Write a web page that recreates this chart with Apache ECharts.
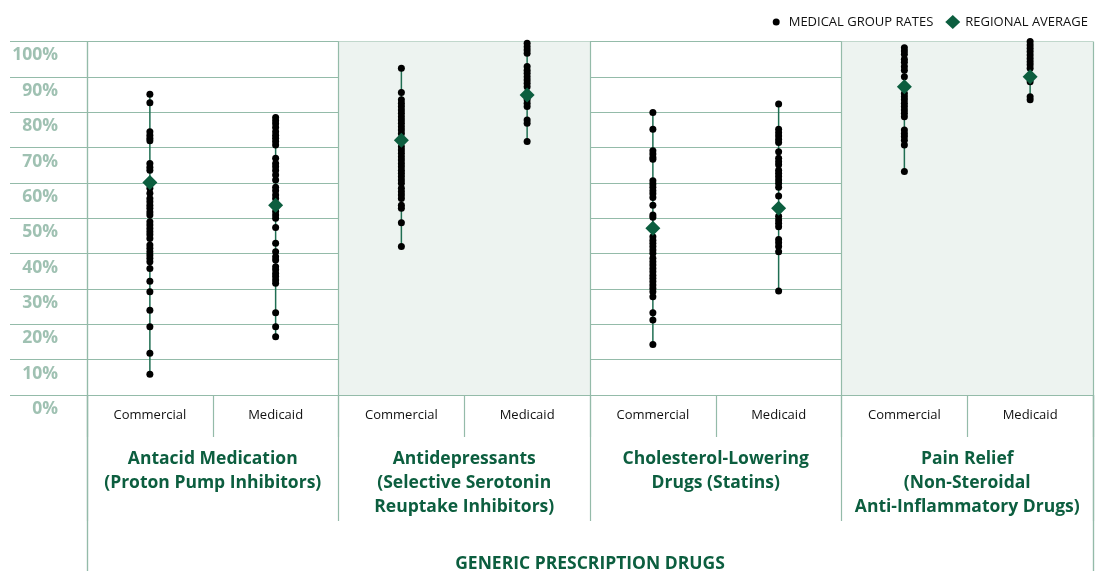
<!DOCTYPE html>
<html>
<head>
<meta charset="utf-8">
<script src="https://cdn.jsdelivr.net/npm/echarts@6/dist/echarts.min.js"></script>
<style>
  html, body { margin: 0; padding: 0; background: #fff; }
  #chart { width: 1095px; height: 571px; }
</style>
</head>
<body>
<div id="chart"></div>
<script>
// categories
var planTypes = ['Commercial', 'Medicaid', 'Commercial', 'Medicaid', 'Commercial', 'Medicaid', 'Commercial', 'Medicaid'];
var drugGroups = [
  'Antacid Medication\n(Proton Pump Inhibitors)',
  'Antidepressants\n(Selective Serotonin\nReuptake Inhibitors)',
  'Cholesterol-Lowering\nDrugs (Statins)',
  'Pain Relief\n(Non-Steroidal\nAnti-Inflammatory Drugs)'
];
var axisTitle = ['GENERIC PRESCRIPTION DRUGS'];

// medical group rates (%), one list per column
var antacidCommercial = [85.1, 82.7, 74.5, 73.5, 72.6, 71.9, 65.5, 64.4, 63.6, 58.5, 57.1, 55.6, 54.7, 53.7, 52.8, 51.8, 50.9, 49.0, 48.1, 47.1, 46.2, 45.3, 44.3, 42.4, 41.5, 40.5, 39.6, 38.7, 37.7, 35.8, 32.2, 29.2, 24.0, 19.3, 11.8, 5.9];
var antacidMedicaid = [78.5, 77.6, 76.7, 75.7, 74.5, 73.5, 72.6, 71.7, 70.7, 67.0, 65.5, 64.6, 63.5, 62.2, 60.8, 58.8, 57.8, 56.6, 55.6, 51.9, 50.9, 50.0, 47.4, 42.9, 40.5, 39.1, 38.2, 36.3, 35.4, 34.4, 33.5, 32.5, 31.6, 23.3, 19.3, 16.5];
var antidepCommercial = [92.4, 85.6, 83.5, 82.5, 81.6, 80.6, 79.7, 78.7, 77.8, 76.9, 75.9, 75.0, 74.0, 70.2, 69.3, 68.4, 67.4, 66.5, 65.5, 64.6, 63.6, 62.7, 61.8, 60.8, 59.9, 58.5, 57.5, 56.6, 55.6, 53.7, 52.8, 48.7, 42.0];
var antidepMedicaid = [99.5, 98.5, 97.6, 96.7, 92.9, 91.9, 91.0, 90.0, 89.1, 88.2, 87.2, 83.5, 82.5, 81.6, 77.8, 76.9, 71.7];
var statinCommercial = [79.9, 75.2, 69.1, 68.2, 67.2, 66.7, 60.6, 59.7, 58.8, 57.8, 56.9, 55.9, 53.7, 50.9, 50.3, 44.8, 43.8, 42.9, 42.0, 41.0, 40.1, 38.7, 37.7, 36.8, 35.8, 34.9, 33.9, 33.0, 32.1, 31.1, 30.2, 29.2, 27.8, 23.3, 21.2, 14.3];
var statinMedicaid = [82.3, 75.2, 74.2, 73.3, 72.3, 71.4, 68.8, 67.0, 66.0, 65.1, 63.6, 62.7, 61.8, 60.8, 59.9, 58.8, 56.3, 50.6, 49.5, 48.6, 47.6, 44.0, 43.1, 42.0, 40.5, 29.4];
var nsaidCommercial = [98.2, 97.3, 96.4, 95.0, 94.1, 92.9, 91.9, 90.0, 85.3, 84.4, 83.5, 82.5, 81.6, 80.6, 79.7, 78.7, 75.0, 74.0, 73.1, 72.1, 70.7, 63.2];
var nsaidMedicaid = [100, 99.0, 98.1, 97.2, 96.2, 95.2, 94.3, 93.4, 92.4, 88.6, 84.4, 83.5];

var groupRates = [antacidCommercial, antacidMedicaid, antidepCommercial, antidepMedicaid,
                  statinCommercial, statinMedicaid, nsaidCommercial, nsaidMedicaid];
var regionalAverage = [60.1, 53.7, 72.1, 84.9, 47.2, 52.8, 87.2, 90.0];

var gridColor = '#94bba9';
var green = '#0c5e3f';
var font = 'Open Sans';

var rateData = [];
var rangeData = [];
groupRates.forEach(function (list, i) {
  list.forEach(function (v) { rateData.push([i, v]); });
  rangeData.push([i, Math.min.apply(null, list), Math.max.apply(null, list)]);
});
var avgData = regionalAverage.map(function (v, i) { return [i, v]; });

// long ticks framing the whole label block (drawn from both ends)
function frameAxis(inverse) {
  return {
    type: 'category', data: axisTitle, position: 'bottom', inverse: inverse,
    axisLine: { show: false },
    axisTick: { show: true, interval: 0, length: 180, lineStyle: { color: gridColor, width: 1.2 } },
    axisLabel: inverse ? { show: false } :
      { interval: 0, margin: 160, fontSize: 17.5, fontWeight: 'bold', color: green },
    splitLine: { show: false }
  };
}

var chart = echarts.init(document.getElementById('chart'));
chart.setOption({
  animation: false,
  textStyle: { fontFamily: font },
  legend: {
    right: 2, top: 10,
    itemWidth: 15, itemHeight: 14, itemGap: 12,
    textStyle: { fontSize: 13, color: '#111', fontFamily: font },
    data: [
      { name: 'MEDICAL GROUP RATES', icon: 'path://M0,0M14,14M7,3.5A3.5,3.5,0,1,1,7,10.5A3.5,3.5,0,1,1,7,3.5Z' },
      { name: 'REGIONAL AVERAGE', icon: 'diamond' }
    ]
  },
  grid: { left: 87, right: 2, top: 41.5, bottom: 176, outerBoundsMode: 'none', containLabel: false },
  xAxis: [
    {
      type: 'category', data: planTypes, position: 'bottom',
      axisLine: { lineStyle: { color: gridColor, width: 1.2 } },
      axisTick: { show: true, interval: 0, length: 42, lineStyle: { color: gridColor, width: 1.2 } },
      axisLabel: { interval: 0, margin: 14, fontSize: 13, color: '#111' },
      splitLine: { show: false }
    },
    {
      type: 'category', data: drugGroups, position: 'bottom',
      axisLine: { show: false },
      axisTick: { show: true, interval: 0, length: 126, lineStyle: { color: gridColor, width: 1.2 } },
      axisLabel: { interval: 0, margin: 52, fontSize: 17.5, lineHeight: 24, fontWeight: 'bold', color: green },
      splitLine: { show: true, interval: 0, lineStyle: { color: gridColor, width: 1.2 } },
      splitArea: { show: true, interval: 0, areaStyle: { color: ['rgba(0,0,0,0)', '#edf3f0'] } }
    },
    frameAxis(false),
    frameAxis(true)
  ],
  yAxis: {
    type: 'value', min: 0, max: 100, interval: 10,
    axisLine: { show: true, lineStyle: { color: gridColor, width: 1.2 } },
    axisTick: { show: true, length: 77, lineStyle: { color: gridColor, width: 1.2 } },
    axisLabel: {
      formatter: '{value}%', margin: 29, fontSize: 17.5, fontWeight: 'bold',
      color: '#9fc1b2', verticalAlign: 'top', padding: [5, 0, 0, 0]
    },
    splitLine: { lineStyle: { color: gridColor, width: 1.2 } }
  },
  series: [
    {
      type: 'custom', xAxisIndex: 0, z: 3,
      renderItem: function (params, api) {
        var a = api.coord([api.value(0), api.value(1)]);
        var b = api.coord([api.value(0), api.value(2)]);
        return {
          type: 'line',
          shape: { x1: a[0], y1: a[1], x2: b[0], y2: b[1] },
          style: { stroke: '#1f6e52', lineWidth: 1.5 }
        };
      },
      encode: { x: 0, y: [1, 2] },
      data: rangeData
    },
    {
      name: 'MEDICAL GROUP RATES', type: 'scatter', xAxisIndex: 0, z: 4,
      symbol: 'circle', symbolSize: 7,
      itemStyle: { color: '#000', opacity: 1 },
      data: rateData
    },
    {
      name: 'REGIONAL AVERAGE', type: 'scatter', xAxisIndex: 0, z: 5,
      symbol: 'diamond', symbolSize: 15,
      itemStyle: { color: green, opacity: 1 },
      data: avgData
    }
  ]
});
window.addEventListener('resize', chart.resize);
</script>
</body>
</html>
